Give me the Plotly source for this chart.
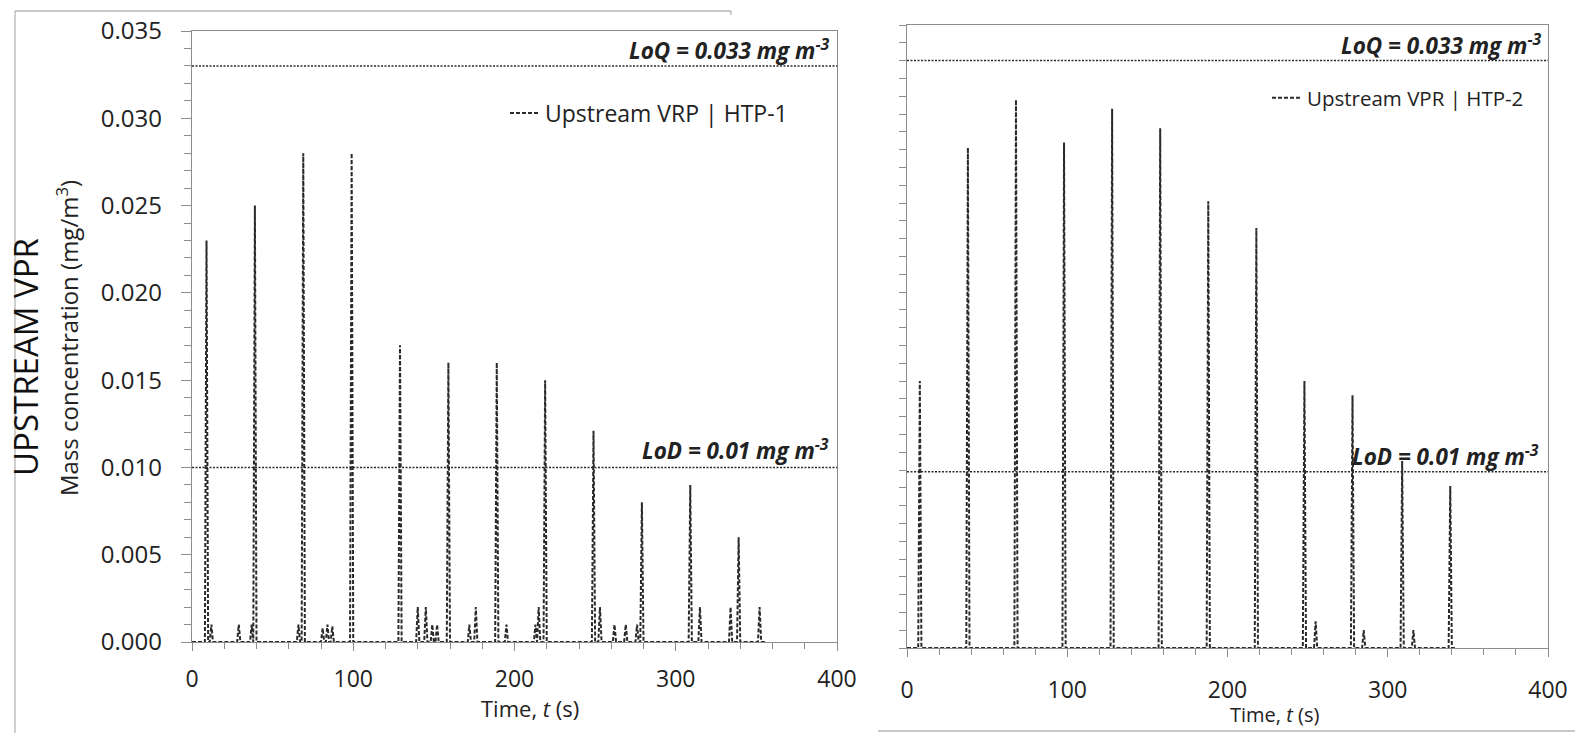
import plotly.graph_objects as go

W, H = 1575, 733

# ---------------- data ----------------
# HTP-1 (left): spike times (s) and peak mass concentration (mg/m3)
htp1_t = [9, 12, 29, 37, 39, 66, 69, 81, 84, 87, 99, 129, 140, 145, 149, 152, 159,
          172, 176, 189, 195, 213, 215, 219, 249, 253, 262, 269, 276, 279, 309,
          315, 334, 339, 352]
htp1_c = [0.023, 0.001, 0.001, 0.001, 0.025, 0.001, 0.028, 0.0008, 0.001, 0.0009,
          0.028, 0.017, 0.002, 0.002, 0.001, 0.001, 0.016, 0.001, 0.002, 0.016,
          0.001, 0.001, 0.002, 0.015, 0.0121, 0.002, 0.001, 0.001, 0.001, 0.008,
          0.009, 0.002, 0.002, 0.006, 0.002]

# HTP-2 (right)
htp2_t = [8, 38, 68, 98, 128, 158, 188, 218, 248, 255, 278, 285, 309, 316, 339]
htp2_c = [0.015, 0.0281, 0.0308, 0.0284, 0.0303, 0.0292, 0.0251, 0.0236, 0.015,
          0.0015, 0.0142, 0.001, 0.0105, 0.001, 0.0091]

loq = 0.033
lod = 0.01
lod2 = 0.0099

x_ticks = [0, 100, 200, 300, 400]
y_ticks = [0.000, 0.005, 0.010, 0.015, 0.020, 0.025, 0.030, 0.035]


def spike_series(ts, cs, t_end):
    xs, ys = [0], [0]
    for t, c in zip(ts, cs):
        xs += [t - 1, t, t + 1]
        ys += [0, c, 0]
    xs.append(t_end)
    ys.append(0)
    return xs, ys


FONT = "Open Sans"
LINE_COL = "#2a2a2a"
AX_COL = "#8c8c8c"
TXT = "#222"

fig = go.Figure()

x1, y1 = spike_series(htp1_t, htp1_c, 356)
x2, y2 = spike_series(htp2_t, htp2_c, 342)

fig.add_trace(go.Scatter(x=x1, y=y1, mode="lines", name="Upstream VRP | HTP-1",
                         line=dict(color=LINE_COL, width=2, dash="4px,2px"),
                         xaxis="x", yaxis="y", legend="legend"))
fig.add_trace(go.Scatter(x=x2, y=y2, mode="lines", name="Upstream VPR | HTP-2",
                         line=dict(color=LINE_COL, width=2, dash="4px,2px"),
                         xaxis="x2", yaxis="y2", legend="legend2"))


def px_x(p):
    return p / W


def px_y(p):
    return 1 - p / H


common_x = dict(range=[0, 400], tickvals=x_ticks, showline=True, linecolor=AX_COL,
                linewidth=1.3, mirror=True, ticks="outside", ticklen=8, tickcolor=AX_COL,
                showgrid=False, zeroline=False, automargin=False,
                minor=dict(dtick=20, ticks="outside", ticklen=6, tickcolor=AX_COL, showgrid=False),
                tickfont=dict(family=FONT, size=23, color=TXT))
common_y = dict(range=[0, 0.035], showline=True, linecolor=AX_COL, linewidth=1.3,
                mirror=True, ticks="outside", tickcolor=AX_COL, showgrid=False,
                zeroline=False, automargin=False)

fig.update_layout(
    template="none",
    width=W, height=H,
    margin=dict(l=0, r=0, t=0, b=0, pad=0, autoexpand=False),
    paper_bgcolor="white", plot_bgcolor="white",
    font=dict(family=FONT, color=TXT),
    xaxis=dict(domain=[px_x(192), px_x(837)], anchor="y", ticklabelstandoff=8, **common_x),
    yaxis=dict(domain=[px_y(642), px_y(31)], anchor="x", tickvals=y_ticks,
               tickformat=".3f", ticklen=10, ticklabelstandoff=14,
               tickfont=dict(family=FONT, size=24, color=TXT),
               minor=dict(dtick=0.001, ticks="outside", ticklen=7, tickcolor=AX_COL, showgrid=False),
               **common_y),
    xaxis2=dict(domain=[px_x(907), px_x(1548)], anchor="y2", ticklabelstandoff=13, **common_x),
    yaxis2=dict(domain=[px_y(648), px_y(25)], anchor="x2", tickvals=y_ticks,
                showticklabels=False, ticklen=7,
                minor=dict(dtick=0.001, ticks="outside", ticklen=7, tickcolor=AX_COL, showgrid=False),
                **common_y),
    legend=dict(x=px_x(505), y=px_y(113), xanchor="left", yanchor="middle",
                bgcolor="rgba(0,0,0,0)", font=dict(family=FONT, size=23, color=TXT),
                itemwidth=30, tracegroupgap=0),
    legend2=dict(x=px_x(1267), y=px_y(98), xanchor="left", yanchor="middle",
                 bgcolor="rgba(0,0,0,0)", font=dict(family=FONT, size=20.5, color=TXT),
                 itemwidth=30, tracegroupgap=0),
    showlegend=True,
)

# LoQ / LoD reference lines
ref_line = dict(color=LINE_COL, width=1.5, dash="2px,1.5px")
for xr, yr, yv in [("x", "y", loq), ("x", "y", lod), ("x2", "y2", loq), ("x2", "y2", lod2)]:
    fig.add_shape(type="line", xref=xr, yref=yr, x0=0, x1=400, y0=yv, y1=yv, line=ref_line)

# frame lines of the original composite
frame = dict(color="#b5b5b5", width=1.3)
fig.add_shape(type="line", xref="paper", yref="paper", x0=px_x(15), x1=px_x(731),
              y0=px_y(11), y1=px_y(11), line=frame)
fig.add_shape(type="line", xref="paper", yref="paper", x0=px_x(15), x1=px_x(15),
              y0=px_y(11), y1=0, line=frame)
fig.add_shape(type="line", xref="paper", yref="paper", x0=px_x(731), x1=px_x(731),
              y0=px_y(11), y1=px_y(15), line=frame)
fig.add_shape(type="line", xref="paper", yref="paper", x0=px_x(878), x1=1,
              y0=px_y(731), y1=px_y(731), line=frame)

annotations = [
    dict(text="<b><i>LoQ = 0.033 mg m<sup>-3</sup></i></b>", x=px_x(831), y=px_y(49),
         xanchor="right", yanchor="middle"),
    dict(text="<b><i>LoD = 0.01 mg m<sup>-3</sup></i></b>", x=px_x(831), y=px_y(450),
         xanchor="right", yanchor="middle"),
    dict(text="<b><i>LoQ = 0.033 mg m<sup>-3</sup></i></b>", x=px_x(1543), y=px_y(45),
         xanchor="right", yanchor="middle"),
    dict(text="<b><i>LoD = 0.01 mg m<sup>-3</sup></i></b>", x=px_x(1541), y=px_y(455),
         xanchor="right", yanchor="middle"),
]
for a in annotations:
    a.update(xref="paper", yref="paper", showarrow=False,
             font=dict(family=FONT, size=22.5, color=TXT))
    fig.add_annotation(**a)

# axis titles as annotations for precise placement
fig.add_annotation(text="Time, <i>t</i> (s)", x=px_x(530), y=px_y(708), xref="paper", yref="paper",
                   showarrow=False, font=dict(family=FONT, size=22, color=TXT),
                   xanchor="center", yanchor="middle")
fig.add_annotation(text="Time, <i>t</i> (s)", x=px_x(1274), y=px_y(714), xref="paper", yref="paper",
                   showarrow=False, font=dict(family=FONT, size=20, color=TXT),
                   xanchor="center", yanchor="middle")
fig.add_annotation(text="Mass concentration (mg/m<sup>3</sup>)", x=px_x(68), y=px_y(338),
                   xref="paper", yref="paper", showarrow=False, textangle=-90,
                   font=dict(family=FONT, size=24, color=TXT), xanchor="center", yanchor="middle")
fig.add_annotation(text="UPSTREAM VPR", x=px_x(25), y=px_y(357), xref="paper", yref="paper",
                   showarrow=False, textangle=-90,
                   font=dict(family=FONT, size=33, color="#111"), xanchor="center", yanchor="middle")

fig.write_html("out.html")
